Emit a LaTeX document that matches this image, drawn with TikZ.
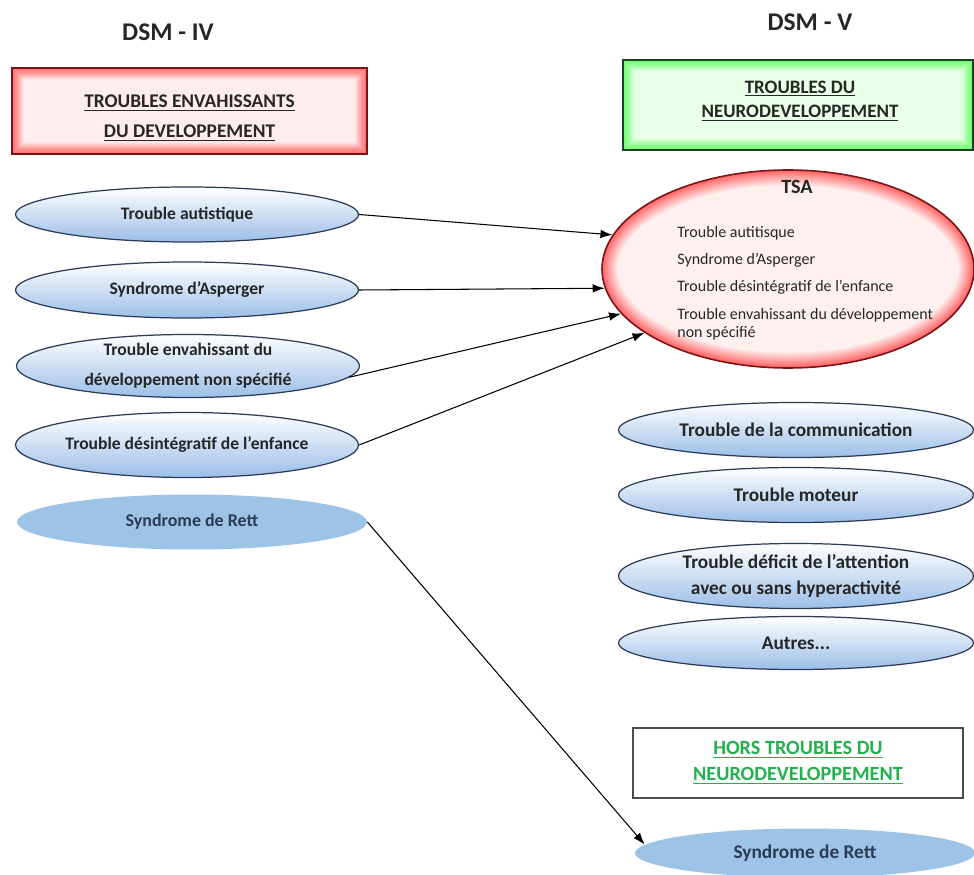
\documentclass[tikz,border=0pt]{standalone}
\usepackage{fontspec}
\setmainfont{Carlito}
\usetikzlibrary{arrows.meta, shapes.geometric}
\definecolor{rougefonce}{HTML}{7A1418}
\definecolor{vertfonce}{HTML}{1E4028}
\definecolor{verttexte}{HTML}{22B14C}
\definecolor{bleufonce}{HTML}{2B3A55}
\definecolor{bleuclair}{HTML}{9BBEE8}
\definecolor{bleuplein}{HTML}{9DC3E6}
\definecolor{texte}{HTML}{262626}

\begin{document}
\begin{tikzpicture}[
        titre/.style={font=\fontsize{14.5}{17}\selectfont\bfseries, text=texte},
        glowrect/.style={path picture={
            \foreach \i [evaluate=\i as \w using (13-\i)*1.3, evaluate=\i as \c using int(5*\i)] in {1,...,12}
                \draw[#1!\c, line width=\w pt] (path picture bounding box.south west) rectangle (path picture bounding box.north east);}},
        glowellipse/.style={path picture={
            \foreach \i [evaluate=\i as \w using (13-\i)*1.6, evaluate=\i as \c using int(5*\i)] in {1,...,12}
                \draw[#1!\c, line width=\w pt] (path picture bounding box.center) ellipse [x radius=3.72cm, y radius=1.98cm];}},
        entete/.style={rectangle, line width=0.9pt},
        entetetexte/.style={align=center, text=texte, font=\fontsize{11}{17}\selectfont\bfseries},
        rougebox/.style={entete, draw=rougefonce, fill=red!7, glowrect=red},
        vertbox/.style={entete, draw=vertfonce, fill=green!9, glowrect=green},
        blancbox/.style={entete, draw=black!70, fill=white, line width=0.7pt},
        bulle/.style={ellipse, draw=bleufonce, line width=0.7pt, top color=white, bottom color=bleuclair,
            align=center, text=texte, inner xsep=-4mm, inner ysep=-2mm},
        bulleg/.style={bulle, minimum width=6.86cm, font=\fontsize{10}{17}\selectfont\bfseries},
        bulled/.style={bulle, minimum width=7.1cm, font=\fontsize{11}{15}\selectfont\bfseries},
        rett/.style={ellipse, fill=bleuplein, text=bleufonce, inner xsep=-4mm, inner ysep=-2mm},
        tsabulle/.style={ellipse, draw=rougefonce, line width=0.9pt, fill=red!6, glowellipse=red},
        fleche/.style={-{Latex[length=2.4mm, width=1.7mm]}, line width=0.6pt, black}
    ]
        \useasboundingbox (0,0) rectangle (19.48,-17.5);

        \node[titre] (dsmiv) at (3.36,-0.64) {DSM - IV};
        \node[titre] (dsmv) at (16.2,-0.44) {DSM - V};

        \node[rougebox, minimum width=7.1cm, minimum height=1.72cm] (ted) at (3.79,-2.22) {};
        \node[entetetexte] (tedtexte) at (3.79,-2.36)
            {\underline{TROUBLES ENVAHISSANTS}\\\underline{DU DEVELOPPEMENT}};
        \node[vertbox, minimum width=7.0cm, minimum height=1.8cm] (tnd) at (15.96,-2.1) {};
        \node[entetetexte, font=\fontsize{10.8}{14}\selectfont\bfseries] (tndtexte) at (16.0,-2.02)
            {\underline{TROUBLES DU}\\\underline{NEURODEVELOPPEMENT}};

        \node[bulleg, minimum height=1.1cm] (ta) at (3.74,-4.29) {Trouble autistique};
        \node[bulleg, minimum height=1.12cm] (sa) at (3.74,-5.8) {Syndrome d'Asperger};
        \node[bulleg, minimum height=1.26cm] (tedns) at (3.76,-7.32)
            {Trouble envahissant du\\développement non spécifié};
        \node[bulleg, minimum height=1.3cm] (tde) at (3.74,-8.9) {Trouble désintégratif de l'enfance};
        \node[rett, minimum width=7.0cm, minimum height=1.1cm,
            font=\fontsize{10.2}{12}\selectfont\bfseries] (rettg) at (3.84,-10.44) {Syndrome de Rett};

        \node[tsabulle, minimum width=7.44cm, minimum height=3.96cm] (tsa) at (15.76,-5.38) {};
        \node[font=\fontsize{11.5}{13}\selectfont\bfseries, text=texte] (tsatitre) at (15.94,-3.74) {TSA};
        \node[anchor=north west, inner sep=0pt, align=left, text=texte,
            font=\fontsize{9.1}{10.5}\selectfont] (tsaliste) at (13.54,-4.52)
            {Trouble autitisque\\[5pt]Syndrome d'Asperger\\[5pt]Trouble désintégratif de l'enfance\\[5pt]Trouble envahissant du développement\\non spécifié};

        \node[bulled, minimum height=1.1cm] (tcom) at (15.92,-8.6) {Trouble de la communication};
        \node[bulled, minimum height=1.1cm] (tmot) at (15.92,-9.9) {Trouble moteur};
        \node[bulled, minimum height=1.3cm] (tdah) at (15.92,-11.52)
            {Trouble déficit de l'attention\\avec ou sans hyperactivité};
        \node[bulled, minimum height=1.06cm] (autres) at (15.92,-12.86) {Autres...};

        \node[blancbox, minimum width=6.6cm, minimum height=1.4cm, align=center, text=verttexte,
            font=\fontsize{11.5}{15}\selectfont\bfseries] (hors) at (15.96,-15.26)
            {\underline{HORS TROUBLES DU}\\\underline{NEURODEVELOPPEMENT}};
        \node[rett, minimum width=6.8cm, minimum height=0.98cm,
            font=\fontsize{11}{13}\selectfont\bfseries] (rettd) at (16.1,-17.06) {Syndrome de Rett};

        \draw[fleche] (ta.east) -- (tsa.169);
        \draw[fleche] (sa.east) -- (tsa.186);
        \draw[fleche] (tedns.-4) -- (tsa.195);
        \draw[fleche] (tde.east) -- (tsa.204);
        \draw[fleche] (rettg.east) -- (rettd.177);

    \end{tikzpicture}
\end{document}
